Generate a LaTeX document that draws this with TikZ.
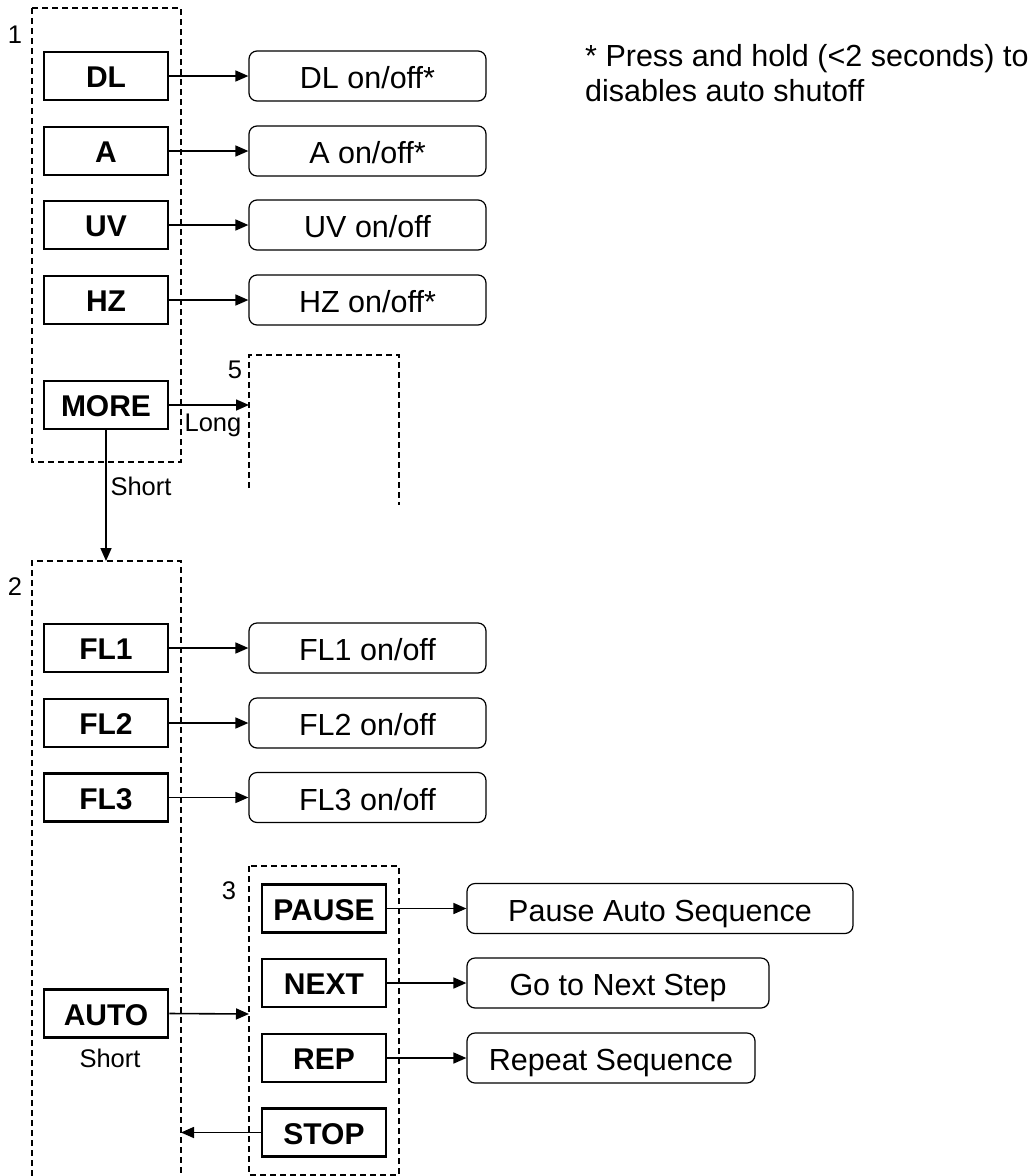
\documentclass[tikz,border=0pt]{standalone}
\usepackage{fontspec}
\setmainfont{Liberation Sans}
\usetikzlibrary{arrows.meta}

\begin{document}
\begin{tikzpicture}[
  x=1pt, y=-1pt,
  button/.style={draw=black, line width=2.8pt, minimum width=124pt, minimum height=48pt, inner sep=0pt, text height=23.5pt, text depth=0pt, font=\fontsize{30}{36}\selectfont\bfseries},
  result/.style={draw=black, line width=1.2pt, rounded corners=8pt, minimum height=50pt, inner sep=0pt, text height=25pt, text depth=0pt, font=\fontsize{30.5}{36}\selectfont},
  group/.style={draw=black, line width=1.2pt, dash pattern=on 6pt off 4pt},
  tag/.style={font=\fontsize{25.5}{30}\selectfont, inner sep=0pt},
  press arrow/.style={-{Triangle[length=13pt,width=11pt]}, line width=1.6pt}
]
\path[use as bounding box] (0,0) rectangle (1035,1176);

% group frames
\draw[group] (32,8) rectangle (181,462);
\draw[group] (249,488) -- (249,355) -- (399,355) -- (399,505);
\draw[group] (32,1176) -- (32,561) -- (181,561) -- (181,1176);
\draw[group] (249,866) rectangle (399,1175);

\node[tag] (n1) at (15,35) {1};
\node[tag] (n5) at (235,370) {5};
\node[tag] (n2) at (15,587) {2};
\node[tag] (n3) at (229,891) {3};

\coordinate (g5in) at (249,405);
\coordinate (g2in) at (106,561);
\coordinate (g3in) at (249,1014);
\coordinate (g2back) at (181,1132.5);

% group 1
\node[button] (dl) at (106,76) {DL};
\node[result, minimum width=237pt] (dlr) at (367.5,76) {DL on/off*};
\draw[press arrow] (dl.east) -- (dlr.west);

\node[button] (a) at (106,151) {A};
\node[result, minimum width=237pt] (ar) at (367.5,151) {A on/off*};
\draw[press arrow] (a.east) -- (ar.west);

\node[button] (uv) at (106,225) {UV};
\node[result, minimum width=237pt] (uvr) at (367.5,225) {UV on/off};
\draw[press arrow] (uv.east) -- (uvr.west);

\node[button] (hz) at (106,300) {HZ};
\node[result, minimum width=237pt] (hzr) at (367.5,300) {HZ on/off*};
\draw[press arrow] (hz.east) -- (hzr.west);

\node[button] (more) at (106,405) {MORE};
\draw[press arrow] (more.east) -- (g5in);
\node[tag] (long) at (213,425) {Long};
\draw[press arrow] (more.south) -- (g2in);
\node[tag] (short1) at (141,486) {Short};

\node[font=\fontsize{30.5}{35}\selectfont, align=left, anchor=north west, inner sep=0pt] (note) at (585,44)
  {* Press and hold (<2 seconds) to\\disables auto shutoff};

% group 2
\node[button] (fl1) at (106,648) {FL1};
\node[result, minimum width=237pt] (fl1r) at (367.5,648) {FL1 on/off};
\draw[press arrow] (fl1.east) -- (fl1r.west);

\node[button] (fl2) at (106,723) {FL2};
\node[result, minimum width=237pt] (fl2r) at (367.5,723) {FL2 on/off};
\draw[press arrow] (fl2.east) -- (fl2r.west);

\node[button] (fl3) at (106,797.5) {FL3};
\node[result, minimum width=237pt] (fl3r) at (367.5,797.5) {FL3 on/off};
\draw[press arrow] (fl3.east) -- (fl3r.west);

\node[button] (auto) at (106,1013.5) {AUTO};
\node[tag] (short2) at (110,1058) {Short};
\draw[press arrow] (auto.east) -- (g3in);

% group 3
\node[button] (pause) at (324,908.5) {PAUSE};
\node[result, minimum width=386pt] (pauser) at (660,908.5) {Pause Auto Sequence};
\draw[press arrow] (pause.east) -- (pauser.west);

\node[button] (next) at (324,983) {NEXT};
\node[result, minimum width=302pt] (nextr) at (618,983) {Go to Next Step};
\draw[press arrow] (next.east) -- (nextr.west);

\node[button] (rep) at (324,1058) {REP};
\node[result, minimum width=288pt] (repr) at (611,1058) {Repeat Sequence};
\draw[press arrow] (rep.east) -- (repr.west);

\node[button] (stop) at (324,1132.5) {STOP};
\draw[press arrow] (stop.west) -- (g2back);
\end{tikzpicture}
\end{document}
